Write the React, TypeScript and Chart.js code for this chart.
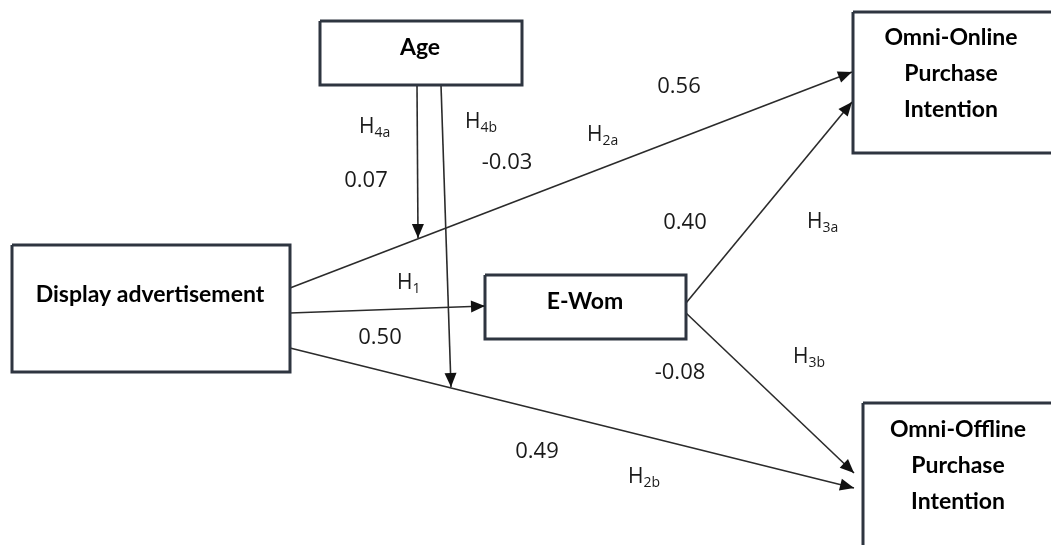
import React, { useEffect, useRef } from "react";
import { Chart, registerables } from "chart.js";

Chart.register(...registerables);

// Node boxes: corners in diagram units
const boxNames = ["Age", "Display advertisement", "E-Wom", "Omni-Online", "Omni-Offline"];
const boxX1 = [320, 12, 485, 853, 863];
const boxY1 = [21, 245, 275, 12, 403];
const boxX2 = [522, 290, 686, 1070, 1070];
const boxY2 = [85, 372, 339, 153, 570];

// Box text lines
const boxTextLines = [
  ["Age"],
  ["Display advertisement"],
  ["E-Wom"],
  ["Omni-Online", "Purchase", "Intention"],
  ["Omni-Offline", "Purchase", "Intention"],
];
const boxTextX = [420, 150, 585, 951, 958];
const boxTextY = [48, 295, 302, 38, 430];

// Paths (arrows): start -> end
const pathNames = ["H4a", "H4b", "H2a", "H1", "H2b", "H3a", "H3b"];
const pathX1 = [417, 441, 290, 290, 290, 686, 686];
const pathY1 = [85, 85, 288, 313, 348, 303, 313];
const pathX2 = [418, 451, 852, 485, 854, 852, 854];
const pathY2 = [238, 387, 72, 306, 488, 102, 473];

// Coefficients
const coefValues = ["0.07", "-0.03", "0.56", "0.50", "0.49", "0.40", "-0.08"];
const coefX = [366, 507, 679, 380, 537, 685, 680];
const coefY = [181, 163, 87, 338, 452, 223, 373];

// Hypothesis labels
const hypMain = ["H", "H", "H", "H", "H", "H", "H"];
const hypSub = ["4a", "4b", "2a", "1", "2b", "3a", "3b"];
const hypX = [359, 465, 587, 397, 628, 807, 793];
const hypY = [127, 122, 135, 283, 477, 222, 357];

const W = 1051;
const H = 545;

export default function App() {
  const ref = useRef<HTMLCanvasElement | null>(null);

  useEffect(() => {
    if (!ref.current) return;
    const datasets: any[] = [];
    boxNames.forEach((n, i) => {
      const pts = [
        { x: boxX1[i], y: boxY1[i] },
        { x: boxX2[i], y: boxY1[i] },
        { x: boxX2[i], y: boxY2[i] },
        { x: boxX1[i], y: boxY2[i] },
        { x: boxX1[i], y: boxY1[i] },
      ];
      datasets.push({
        label: n,
        data: pts,
        showLine: true,
        borderColor: "#2e3540",
        borderWidth: 3,
        pointRadius: 0,
        fill: false,
        tension: 0,
        borderJoinStyle: "miter",
      });
    });
    pathNames.forEach((n, i) => {
      datasets.push({
        label: n,
        data: [
          { x: pathX1[i], y: pathY1[i] },
          { x: pathX2[i], y: pathY2[i] },
        ],
        showLine: true,
        borderColor: "#2b2b2b",
        borderWidth: 1.6,
        pointRadius: 0,
        fill: false,
        tension: 0,
      });
    });

    const diagramPlugin = {
      id: "diagram",
      afterDatasetsDraw(chart: any) {
        const ctx = chart.ctx;
        const xs = chart.scales.x;
        const ys = chart.scales.y;
        const px = (v: number) => xs.getPixelForValue(v);
        const py = (v: number) => ys.getPixelForValue(v);
        ctx.save();
        // arrowheads
        ctx.fillStyle = "#111";
        for (let i = 0; i < pathNames.length; i++) {
          const x1 = px(pathX1[i]), y1 = py(pathY1[i]);
          const x2 = px(pathX2[i]), y2 = py(pathY2[i]);
          const a = Math.atan2(y2 - y1, x2 - x1);
          const len = 14, hw = 6;
          const bx = x2 - len * Math.cos(a), by = y2 - len * Math.sin(a);
          ctx.beginPath();
          ctx.moveTo(x2, y2);
          ctx.lineTo(bx + hw * Math.sin(a), by - hw * Math.cos(a));
          ctx.lineTo(bx - hw * Math.sin(a), by + hw * Math.cos(a));
          ctx.closePath();
          ctx.fill();
        }
        // box texts
        ctx.fillStyle = "#000";
        ctx.textAlign = "center";
        ctx.textBaseline = "middle";
        ctx.font = "bold 23px Lato";
        for (let i = 0; i < boxTextLines.length; i++) {
          boxTextLines[i].forEach((t, j) => {
            ctx.fillText(t, px(boxTextX[i]), py(boxTextY[i] + j * 36));
          });
        }
        // coefficients
        ctx.fillStyle = "#1a1a1a";
        ctx.font = "22px 'Open Sans'";
        for (let i = 0; i < coefValues.length; i++) {
          ctx.fillText(coefValues[i], px(coefX[i]), py(coefY[i]));
        }
        // hypotheses
        ctx.textAlign = "left";
        for (let i = 0; i < hypMain.length; i++) {
          ctx.font = "21px 'Open Sans'";
          const x = px(hypX[i]), y = py(hypY[i]);
          ctx.fillText(hypMain[i], x, y);
          const w = ctx.measureText(hypMain[i]).width;
          ctx.font = "14px 'Open Sans'";
          ctx.fillText(hypSub[i], x + w, y + 6);
        }
        ctx.restore();
      },
    };

    const chart = new Chart(ref.current, {
      type: "scatter",
      data: { datasets },
      options: {
        animation: false,
        responsive: false,
        layout: { padding: 0 },
        plugins: { legend: { display: false }, tooltip: { enabled: false } },
        scales: {
          x: { type: "linear", min: 0, max: W, display: false },
          y: { type: "linear", min: 0, max: H, reverse: true, display: false },
        },
        events: [],
      },
      plugins: [diagramPlugin],
    });
    return () => chart.destroy();
  }, []);

  return (
    <div style={{ position: "fixed", left: 0, top: 0, width: W, height: H, background: "#fff" }}>
      <canvas ref={ref} width={W} height={H} style={{ display: "block", width: W, height: H }} />
    </div>
  );
}
